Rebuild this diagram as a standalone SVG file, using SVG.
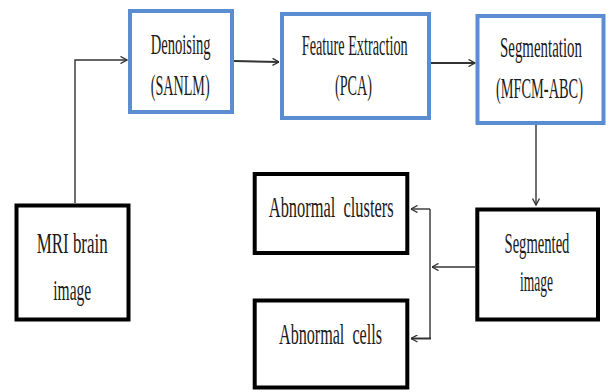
<svg xmlns="http://www.w3.org/2000/svg" width="610" height="392" viewBox="0 0 610 392">
<defs>
<style>
.blue{fill:#fff;stroke:#5B8DD3;stroke-width:4}
.blk{fill:#fff;stroke:#000;stroke-width:4}
.t{font-family:"Liberation Serif","Times New Roman",serif;font-size:29px;fill:#1a1a1a;white-space:pre}
.c{fill:none;stroke:#333;stroke-width:1.4}
.c2{fill:none;stroke:#333;stroke-width:2}
</style>
<marker id="ah" viewBox="0 0 8 8" refX="7.5" refY="4" markerWidth="8" markerHeight="8" markerUnits="userSpaceOnUse" orient="auto">
<path d="M1,0.5 L7.5,4 L1,7.5" fill="none" stroke="#333" stroke-width="1.4"/>
</marker>
</defs>
<rect width="610" height="392" fill="#fff"/>
<g id="connectors">
<path class="c" d="M75,203 V60 H127" marker-end="url(#ah)"/>
<path class="c2" d="M234,61 L279,62" marker-end="url(#ah)"/>
<path class="c2" d="M431,63 H475" marker-end="url(#ah)"/>
<path class="c" d="M536,125 V205" marker-end="url(#ah)"/>
<path class="c" d="M475,267 H432" marker-end="url(#ah)"/>
<path class="c" d="M430,209 V338.5"/>
<path class="c" d="M430,209 H411" marker-end="url(#ah)"/>
<path class="c2" d="M431,338.5 H411" marker-end="url(#ah)"/>
</g>
<g id="denoising">
<rect class="blue" x="130" y="11" width="102" height="101"/>
<text class="t" transform="translate(150.7,54) scale(0.503,1)">Denoising</text>
<text class="t" transform="translate(150.7,95) scale(0.488,1)">(SANLM)</text>
</g>
<g id="feature">
<rect class="blue" x="282" y="14" width="147" height="104"/>
<text class="t" transform="translate(301.7,55) scale(0.493,1)">Feature Extraction</text>
<text class="t" transform="translate(335,95) scale(0.489,1)">(PCA)</text>
</g>
<g id="segmentation">
<rect class="blue" x="477.5" y="16" width="126" height="107" stroke-width="4.5"/>
<text class="t" transform="translate(500,57) scale(0.514,1)">Segmentation</text>
<text class="t" transform="translate(496,98) scale(0.495,1)">(MFCM-ABC)</text>
</g>
<g id="mri">
<rect class="blk" x="16.5" y="205.5" width="112" height="114"/>
<text class="t" transform="translate(36.7,253) scale(0.584,1)">MRI brain</text>
<text class="t" transform="translate(53.3,300) scale(0.536,1)">image</text>
</g>
<g id="clusters">
<rect class="blk" x="254.7" y="174" width="152.6" height="79"/>
<text class="t" transform="translate(268.8,217) scale(0.566,1)">Abnormal  clusters</text>
</g>
<g id="cells">
<rect class="blk" x="254.7" y="300.5" width="152.6" height="87"/>
<text class="t" transform="translate(279,344) scale(0.556,1)">Abnormal  cells</text>
</g>
<g id="segmented">
<rect class="blk" x="477.3" y="209.5" width="120.7" height="110"/>
<text class="t" transform="translate(504.5,253) scale(0.504,1)">Segmented</text>
<text class="t" transform="translate(520,291) scale(0.465,1)">image</text>
</g>
</svg>
